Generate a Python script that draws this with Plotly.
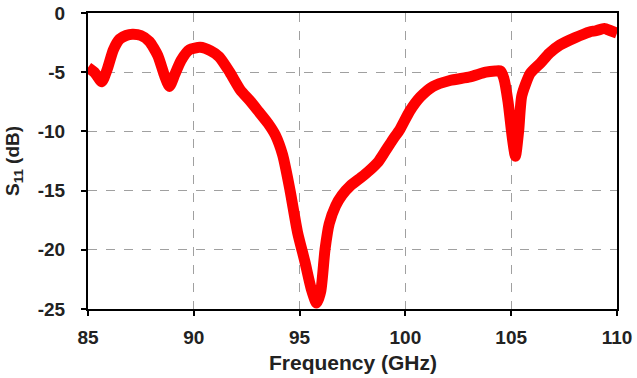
import plotly.graph_objects as go

freq = [85.0, 85.3, 85.65, 85.9, 86.2, 86.5, 86.8, 87.1, 87.5, 87.9, 88.3, 88.6, 88.85, 89.1, 89.4, 89.8,
        90.3, 90.8, 91.2, 91.7, 92.2, 92.65, 93.1, 93.5, 93.85, 94.2, 94.55, 94.9, 95.25, 95.55, 95.8,
        96.0, 96.2, 96.4, 96.7, 97.0, 97.4, 97.9, 98.3, 98.7, 99.0, 99.4, 99.75, 100.2, 100.7, 101.3,
        102.1, 103.05, 103.8, 104.25, 104.5, 104.65, 104.85, 105.05, 105.2, 105.35, 105.5, 105.9,
        106.4, 106.8, 107.3, 108.0, 108.7, 109.0, 109.4, 109.7, 110.0]
s11 = [-4.6, -5.0, -5.8, -4.8, -3.1, -2.2, -1.9, -1.8, -1.9, -2.4, -3.6, -5.2, -6.2, -5.2, -4.0, -3.1,
       -2.9, -3.2, -3.7, -5.0, -6.5, -7.4, -8.4, -9.3, -10.3, -12.0, -15.0, -18.5, -21.0, -23.3, -24.5,
       -23.5, -20.0, -17.8, -16.3, -15.4, -14.6, -13.9, -13.3, -12.6, -11.8, -10.7, -9.8, -8.3, -7.1, -6.2,
       -5.7, -5.4, -5.0, -4.9, -4.9, -5.5, -7.5, -10.5, -12.1, -10.0, -7.0, -5.1,
       -4.2, -3.4, -2.7, -2.1, -1.6, -1.5, -1.3, -1.5, -1.7]

x_ticks = [85, 90, 95, 100, 105, 110]
y_ticks = [0, -5, -10, -15, -20, -25]

FAMILY = "Liberation Sans, Arial, sans-serif"

fig = go.Figure()
fig.add_trace(go.Scatter(
    x=freq, y=s11, mode="lines",
    line=dict(color="#ff0000", width=11, shape="spline", smoothing=0.6),
    showlegend=False,
))

axis_common = dict(
    showline=True, linecolor="black", linewidth=2, mirror=True,
    showgrid=True, gridcolor="#a0a0a0", gridwidth=1, griddash="dash",
    ticks="outside", ticklen=5, tickcolor="black", tickwidth=1.5,
    zeroline=False, automargin=False,
    tickfont=dict(family=FAMILY, size=19, color="#222222"),
)

fig.update_xaxes(
    range=[85, 110], tickvals=x_ticks, ticktext=[f"<b>{v}</b>" for v in x_ticks],
    ticklabelstandoff=5,
    **axis_common,
)
fig.update_yaxes(
    range=[-25, 0], tickvals=y_ticks, ticktext=[f"<b>{v}</b>" for v in y_ticks],
    ticklabelstandoff=12,
    **axis_common,
)

fig.update_layout(
    width=637, height=378,
    margin=dict(l=88, r=20, t=13, b=69),
    paper_bgcolor="white", plot_bgcolor="white",
    font=dict(family=FAMILY, size=19, color="#222222"),
    annotations=[
        dict(text="<b>Frequency (GHz)</b>", xref="paper", yref="paper", x=0.5, y=-0.18,
             xanchor="center", yanchor="middle", showarrow=False,
             font=dict(size=21, family=FAMILY, color="#222222")),
        dict(text="<b>S<sub>11</sub> (dB)</b>", xref="paper", yref="paper", x=-0.14, y=0.5,
             xanchor="center", yanchor="middle", showarrow=False, textangle=-90,
             font=dict(size=19, family=FAMILY, color="#222222")),
    ],
)

fig.write_html("out.html")
